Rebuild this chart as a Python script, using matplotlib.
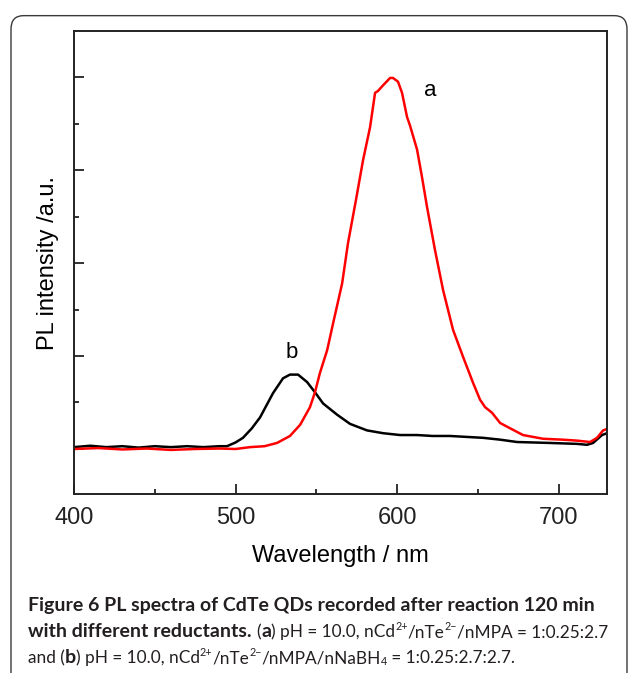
import matplotlib
matplotlib.use("Agg")
import matplotlib.pyplot as plt
from matplotlib.patches import FancyBboxPatch
from matplotlib.ticker import MultipleLocator, NullFormatter

# ---- data ----
wl_a = [400, 415, 430, 445, 460, 475, 490, 500, 509, 518, 525.7, 533.7, 540, 546.1, 549.2,
        552.3, 556.7, 560.4, 566, 569.7, 574.6, 579, 583.3, 586.4, 588.2, 591.3, 595.7,
        597.5, 600.6, 603.1, 606.2, 608, 612.4, 615.5, 618.6, 623.5, 628.5, 634.7, 640.9,
        647.1, 651.4, 654.5, 658.8, 663.8, 668.1, 678, 690.4, 702.8, 711.5, 719.5, 723.8,
        727.6, 730]
pl_a = [0.0, 0.01, -0.005, 0.005, -0.01, 0.0, 0.005, 0.0, 0.02, 0.03, 0.065, 0.14, 0.26, 0.45,
        0.61, 0.82, 1.06, 1.35, 1.78, 2.22, 2.68, 3.11, 3.46, 3.83, 3.85, 3.91, 3.99, 3.99,
        3.95, 3.83, 3.57, 3.48, 3.22, 2.92, 2.60, 2.14, 1.71, 1.28, 0.99, 0.71, 0.53, 0.45,
        0.39, 0.28, 0.24, 0.15, 0.11, 0.10, 0.09, 0.075, 0.12, 0.20, 0.215]

wl_b = [400, 410, 420, 430, 440, 450, 460, 470, 480, 490, 494.7, 500, 504.6, 510, 515.2,
        523.2, 529.4, 533.7, 538.7, 544.3, 549.2, 554.2, 562.8, 570.9, 581.4, 591.3, 601.9,
        612.4, 622, 632.8, 643, 653.3, 664, 674.3, 694.7, 711.5, 717.6, 721.4, 726.9, 730]
pl_b = [0.02, 0.035, 0.02, 0.03, 0.015, 0.03, 0.02, 0.03, 0.02, 0.03, 0.03, 0.07, 0.12, 0.22,
        0.34, 0.60, 0.76, 0.80, 0.80, 0.72, 0.61, 0.49, 0.37, 0.27, 0.20, 0.17, 0.15, 0.15,
        0.14, 0.14, 0.13, 0.12, 0.10, 0.075, 0.065, 0.055, 0.045, 0.065, 0.15, 0.17]

x_ticks = [400, 500, 600, 700]
x_label = "Wavelength / nm"
y_label = "PL intensity /a.u."

fig = plt.figure(figsize=(6.30, 6.73), dpi=100)
W, H = 630, 673

# outer rounded frame
frame = FancyBboxPatch((11 / W, -0.05), (627 - 11) / W, (673 + 34 - 16) / H,
                       boxstyle="round,pad=0,rounding_size=0.02",
                       transform=fig.transFigure, fill=False, ec="#3a3a3a", lw=1.0,
                       clip_on=False)
fig.patches.append(frame)

ax = fig.add_axes([74 / W, 1 - 494 / H, (607 - 74) / W, (494 - 31) / H])
ax.plot(wl_b, pl_b, color="black", lw=1.8)
ax.plot(wl_a, pl_a, color="#ff0000", lw=1.8)

ax.set_xlim(400, 730)
ax.set_ylim(-0.484, 4.495)
ax.set_xticks(x_ticks)
ax.xaxis.set_minor_locator(MultipleLocator(50))
ax.yaxis.set_major_locator(MultipleLocator(1))
ax.yaxis.set_minor_locator(MultipleLocator(0.5))
ax.yaxis.set_major_formatter(NullFormatter())
ax.tick_params(which="both", direction="in", width=1.3, colors="#222222")
ax.tick_params(which="major", length=7)
ax.tick_params(which="minor", length=3.5)
ax.tick_params(axis="x", labelsize=17, pad=9)
for lab in ax.get_xticklabels():
    lab.set_family("Liberation Sans")
for sp in ax.spines.values():
    sp.set_linewidth(1.4)
    sp.set_color("#222222")

ax.set_xlabel(x_label, fontsize=17, family="Liberation Sans", labelpad=12)
ax.set_ylabel(y_label, fontsize=17, family="Liberation Sans", labelpad=7)

ax.text(620.4, 3.86, "a", fontsize=16, family="Liberation Sans", ha="center", va="center")
ax.text(535, 1.04, "b", fontsize=16, family="Liberation Sans", ha="center", va="center")

# caption
cap_color = "#231f20"
FS_B = 14.0
renderer = fig.canvas.get_renderer()
FAM = ["Lato", "DejaVu Sans"]
N = "normal"
B = "bold"


def place_runs(x_px, y_px, runs, fs_n):
    x = x_px
    texts = []
    for run in runs:
        s, wt = run[0], run[1]
        kind = run[2] if len(run) > 2 else ""
        base = FS_B if wt == B else fs_n
        size = base
        dy = 0
        if kind == "sup":
            size = base * 0.62
            dy = base * 1.389 * 0.42
        elif kind == "sub":
            size = base * 0.62
            dy = -base * 1.389 * 0.12
        t = fig.text(x / W, (H - y_px + dy) / H, s, fontsize=size, family=FAM, weight=wt,
                     color=cap_color, ha="left", va="baseline")
        bb = t.get_window_extent(renderer=renderer)
        x = bb.x1
        texts.append(t)
    return texts, x


def draw_line(x_px, y_px, runs, end_px):
    # fit the normal-weight runs so the line ends where the reference line ends
    fs_n = 13.0
    texts, x_end = place_runs(x_px, y_px, runs, fs_n)
    bold_w = 0
    for t, run in zip(texts, runs):
        if run[1] == B:
            bb = t.get_window_extent(renderer=renderer)
            bold_w += bb.width
    norm_w = (x_end - x_px) - bold_w
    if norm_w > 0:
        target = (end_px - x_px) - bold_w
        for t in texts:
            t.remove()
        place_runs(x_px, y_px, runs, fs_n * target / norm_w)


X0 = 28
place_runs(X0, 611, [("Figure 6 PL spectra of CdTe QDs recorded after reaction 120 min", B)], 13)
draw_line(X0, 637, [("with different reductants. ", B), ("(", N), ("a", B),
                    (") pH = 10.0, nCd", N), ("2+", N, "sup"), ("/nTe", N), ("2\u2212", N, "sup"),
                    ("/nMPA = 1:0.25:2.7", N)], 605)
draw_line(X0, 663, [("and (", N), ("b", B),
                    (") pH = 10.0, nCd", N), ("2+", N, "sup"), ("/nTe", N), ("2\u2212", N, "sup"),
                    ("/nMPA/nNaBH", N), ("4", N, "sub"), (" = 1:0.25:2.7:2.7.", N)], 513)

fig.savefig("out.png", dpi=100)
